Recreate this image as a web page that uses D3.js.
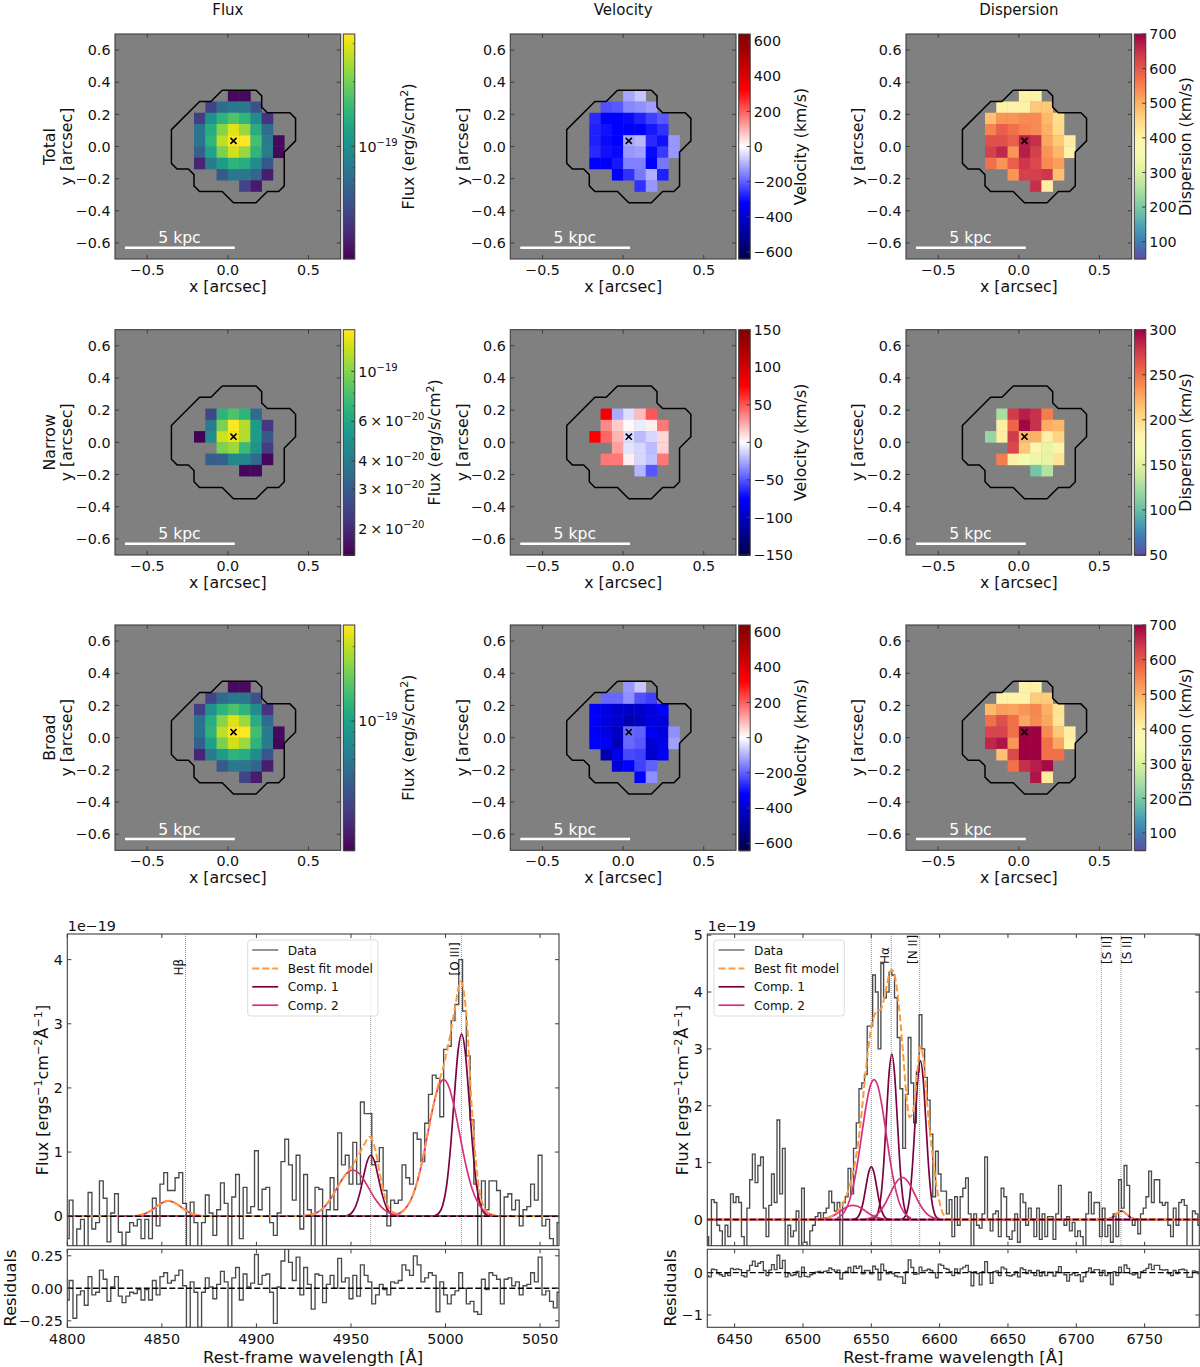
<!DOCTYPE html>
<html><head><meta charset="utf-8">
<script src="https://cdn.jsdelivr.net/npm/d3@7"></script>
<style>html,body{margin:0;background:#fff}svg{display:block}text{font-family:"DejaVu Sans";fill:#111}</style>
</head><body><svg id="c" width="1200" height="1367"></svg>
<script>
const _ = null;
const gridX = [-0.21,-0.14,-0.07,0,0.07,0.14,0.21,0.28];
const gridY = [0.35,0.28,0.21,0.14,0.07,0,-0.07,-0.14,-0.21];
const contourPts = [[-.035,.35],[.175,.35],[.21,.315],[.21,.245],[.245,.21],[.385,.21],[.42,.175],[.42,.035],[.35,-.035],[.35,-.245],[.315,-.28],[.245,-.28],[.175,-.35],[.035,-.35],[-.035,-.28],[-.175,-.28],[-.21,-.245],[-.21,-.175],[-.245,-.14],[-.315,-.14],[-.35,-.105],[-.35,.105],[-.175,.28],[-.105,.28],[-.035,.35]];
const centre = [0.035,0.035];

// flux in 1e-20 erg/s/cm2
const fluxTotal = [
[_,_,_,3.2,3.2,_,_,_],
[_,4.85,7,7.85,7.85,5.5,_,_],
[4.6,10,14.3,17,14.3,9.5,4.3,_],
[7.5,13.4,21.6,29.5,23,13.4,7,_],
[7.5,14.3,26.2,33,33,16.2,8.2,3.2],
[6.2,12,20.6,28,23,14.3,8.2,3.15],
[3.8,8.2,11.2,14.3,13.4,9.5,5.75,_],
[_,_,5.9,7.85,7.85,6.65,3.65,_],
[_,_,_,_,4.85,3.55,_,_]];
const velTotal = [
[_,_,_,-110,-70,_,_,_],
[_,-220,-210,-150,-140,-120,_,_],
[-270,-320,-320,-310,-280,-240,-210,_],
[-280,-300,-320,-320,-320,-290,-260,_],
[-280,-310,-320,-110,-90,-270,-300,-130],
[-270,-300,-310,-130,-120,-310,-250,-130],
[-320,-330,-290,-160,-160,-320,-170,_],
[_,_,-320,-260,-170,-100,-280,_],
[_,_,_,_,-260,-130,_,_]];
const dispTotal = [
[_,_,_,400,400,_,_,_],
[_,400,400,400,470,470,_,_],
[480,530,530,540,540,490,440,_],
[550,590,570,550,540,500,445,_],
[610,610,590,670,650,510,470,410],
[630,660,530,670,630,530,490,400],
[570,530,590,640,620,540,520,_],
[_,_,530,630,630,640,480,_],
[_,_,_,_,650,410,_,_]];
const fluxNarrow = [
[_,_,_,_,_,_,_,_],
[_,_,_,_,_,_,_,_],
[_,2.5,6.8,8,6.8,3.4,_,_],
[_,4,9.7,15.3,11.7,5.4,2.2,_],
[1.55,4.6,12.8,14.3,11.7,5.4,2.85,_],
[_,_,9.7,10.8,7.3,5,2.3,_],
[_,3.05,3.05,4.5,4.5,3.4,1.6,_],
[_,_,_,_,1.6,1.6,_,_],
[_,_,_,_,_,_,_,_]];
const velNarrow = [
[_,_,_,_,_,_,_,_],
[_,_,_,_,_,_,_,_],
[_,82,-25,-10,20,50,_,_],
[_,35,15,2,-6,5,40,_],
[75,45,22,-10,-20,-12,12,_],
[_,_,28,-8,-12,-20,13,_],
[_,40,40,5,-12,-18,40,_],
[_,_,_,_,-22,-50,_,_],
[_,_,_,_,_,_,_,_]];
const dispNarrow = [
[_,_,_,_,_,_,_,_],
[_,_,_,_,_,_,_,_],
[_,125,275,288,280,245,_,_],
[_,188,255,298,280,225,220,_],
[118,188,275,220,222,187,205,_],
[_,_,270,212,180,155,182,_],
[_,245,185,168,158,155,195,_],
[_,_,_,_,105,130,_,_],
[_,_,_,_,_,_,_,_]];
const fluxBroad = [
[_,_,_,3.2,3.2,_,_,_],
[_,4.6,6.2,6.9,6.9,5.1,_,_],
[4.4,8.6,11.7,13.5,11.7,8.2,4.1,_],
[6.6,11,16.7,22,17.9,11,6.2,_],
[6.6,11.7,19.9,24.5,24.4,13,7.2,3.2],
[5.6,10,16,21,17.9,11.7,7.2,3.1],
[3.7,7.2,9.5,11.7,11,8.2,5.3,_],
[_,_,5.4,6.9,6.9,6,3.55,_],
[_,_,_,_,4.6,3.5,_,_]];
const velBroad = [
[_,_,_,-130,-70,_,_,_],
[_,-190,-190,-140,-220,-240,_,_],
[-330,-370,-410,-420,-410,-380,-320,_],
[-330,-380,-400,-470,-430,-380,-390,_],
[-330,-370,-430,-190,-200,-340,-380,-140],
[-320,-330,-440,-190,-210,-400,-360,-120],
[_,-470,-350,-230,-240,-410,-340,_],
[_,_,-390,-320,-240,-200,_,_],
[_,_,_,_,-320,-140,_,_]];
const dispBroad = [
[_,_,_,400,400,_,_,_],
[_,395,395,395,465,465,_,_],
[490,520,515,530,545,500,430,_],
[570,610,570,510,540,510,425,_],
[625,625,570,700,700,540,470,405],
[660,680,530,700,700,570,510,400],
[_,480,620,700,700,570,570,_],
[_,_,570,650,670,690,_,_],
[_,_,_,_,680,415,_,_]];

const velTicksWide = [-600,-400,-200,0,200,400,600];
const velTicksNarrow = [-150,-100,-50,0,50,100,150];
const dispTicksWide = [100,200,300,400,500,600,700];
const dispTicksNarrow = [50,100,150,200,250,300];
const fluxTicksNarrow = [10,6,4,3,2];
const fluxTicksSingle = [10];
const fluxMinorTotal = [4,5,6,7,8,9,20,30];
const fluxMinorNarrow = [1.6,1.7,1.8,1.9,5,7,8,9];
const fluxMinorBroad = [4,5,6,7,8,9,20];
const mapTicksX = [-0.5,0,0.5];
const mapTicksY = [-0.6,-0.4,-0.2,0,0.2,0.4,0.6];
const colTitles = ["Flux","Velocity","Dispersion"];
const rowNames = ["Total","Narrow","Broad"];

// spectra on a common wavelength grid
const waveLeft = d3.range(4800,5061,2);
const dataLeft = [
-.35,.25,-.55,-.2,-.05,-.5,.37,-.2,-.1,.55,
.28,-.4,.05,.35,-.25,-.45,-.25,-.1,-.15,-.05,
-.35,-.05,-.35,.28,-.15,.5,.68,.4,.4,.6,
.68,.2,-.7,.22,-.1,-.6,-.1,.33,.05,-.3,
.1,.52,.2,-.6,.3,.65,-.35,.45,.05,.15,
1.02,.1,.42,.45,-.1,-.3,.05,.85,1.2,.8,
.25,.95,-.2,.65,.1,-.6,.45,.42,-.55,.1,
.6,.1,1.3,.8,.95,.5,1.15,.5,1.78,1.6,
1.6,.8,.85,1.07,.4,-.15,.25,.2,.25,.8,
.6,.5,1.3,1.2,.85,1.45,1.9,2.2,2.15,1.55,
2.6,2.65,3.05,3.3,4.0,3.2,2.5,1.5,.5,-.6,
.55,.1,.55,.55,.4,-.5,.3,.35,.1,.25,
-.15,.1,.15,.5,.25,.95,-.15,-.05,-.35,-.6,-.1];
const resLeft = [
-.09,.06,-.23,-.05,-.02,-.13,.09,-.05,-.03,.14,.07,-.1,.01,.09,-.06,-.11,-.06,-.03,-.04,-.01,
-.09,-.01,-.09,.06,-.05,.09,.12,.04,.06,.1,
.14,.02,-.3,.05,-.03,-.3,-.03,.08,.01,-.08,
.03,.13,.05,-.3,.08,.16,-.09,.11,.01,.04,
.26,.03,.1,.11,-.03,-.27,.01,.21,.3,.2,
.06,.24,-.05,.16,.03,-.16,.11,.1,-.11,.03,
.1,0,.23,.05,.08,-.08,.1,-.06,.18,.1,
.05,-.12,-.05,.03,-.01,-.05,.05,.04,.06,.18,
.14,.1,.25,.18,.05,.08,.12,.1,-.18,.05,
-.05,-.12,-.05,-.02,.12,0,-.12,-.1,-.18,-.2,
.07,-.01,.12,.1,.07,-.12,.07,.08,.02,.05,
-.05,.02,.03,.12,.05,.24,-.05,-.02,-.1,-.15,-.03];
const waveRight = d3.range(6430,6791,2);
const dataRight = [
-.3,-.6,.35,.3,-.1,-.2,-.5,-.1,-.3,.45,
.3,.4,.3,-.3,-.6,.2,.7,1.15,.65,.95,
1.1,.2,-.3,.25,.8,.3,1.75,.45,1.25,-.6,
-.1,-.3,-.2,.15,-.6,.55,-.4,-.6,-.2,-.1,
.05,.12,0,.12,.2,.5,.3,.15,.3,-.6,
.3,.4,.9,.45,1.25,1.7,2.3,2.4,2.55,3.4,
3.4,4.3,4.0,3.0,4.5,3.9,4.0,4.35,4.3,3.9,
3.2,2.3,1.25,2.2,3.2,2.4,1.7,2.6,3.6,3.0,
2.5,2.1,1.5,.4,1.2,.8,.5,.5,.1,.35,
-.3,.4,-.1,.4,.55,.73,.1,-.6,.1,-.1,
-.15,.1,1.1,0,-.2,.1,.15,-.3,.55,.4,
-.3,-.35,-.2,.1,-.4,.45,.3,-.1,.2,0,
-.3,.2,-.35,.1,-.3,.05,.05,-.35,.1,.6,
0,-.1,.05,-.2,-.05,-.3,-.2,-.3,-.6,.1,
.48,.1,.3,.3,-.3,.2,-.3,-.1,-.4,.1,
-.3,.7,.2,.95,.6,0,-.1,0,-.25,.1,
.2,.4,.85,.3,.7,.7,.3,.25,.3,-.1,
-.3,.2,-.1,.3,.35,.25,-.6,-.6,.15,.1,
-.1];
const resRight = [
-.07,-.1,.08,.07,-.02,-.05,-.09,-.02,-.07,.1,
.07,.09,.07,-.07,-.1,.05,.17,.27,.15,.22,
.26,.05,-.07,.06,.19,.07,.41,.1,.29,-.1,
-.02,-.07,-.05,.03,-.1,.13,-.09,-.1,-.05,-.02,
.01,.03,0,.03,.04,.11,.07,.03,.06,-.15,
0,.03,.12,0,.15,.1,.15,-.03,.05,.05,
-.03,.15,.08,-.17,.2,.05,-.03,.02,-.02,-.08,
-.1,-.1,-.25,.02,.3,.12,-.04,-.03,.13,.04,
.05,.08,.05,0,-.12,.2,.17,.1,.08,.02,
-.07,.09,-.02,.09,.13,.17,.02,-.31,.02,-.02,
-.29,.02,.26,0,-.25,.02,.04,-.07,.13,.09,
-.07,-.08,-.05,.02,-.1,.11,.07,-.02,.05,0,
-.07,.05,-.08,.02,-.07,.01,.01,-.08,.02,.14,
0,-.05,-.2,-.05,-.01,-.07,-.05,-.21,-.1,.02,
.11,.02,.07,.07,-.07,.05,-.07,-.02,-.28,.02,
-.07,.13,0,.18,.1,-.02,-.05,-.02,-.12,.02,
.05,.1,.2,.07,.17,.17,.07,.06,.07,-.02,
-.07,.05,-.02,.07,.08,.06,-.11,-.11,.04,.02,
-.02];

const narrowOffsets = [-14,-12,-10,-8,-6,-4,-2,0,2,4,6,8,10,12,14];
const broadOffsets = [-27,-24,-21,-18,-15,-12,-9,-6,-3,0,3,6,9,12,15,18,21,24,27];

const comp1LeftCentres = [4960.5,5008.5];
const comp1LeftProfiles = [
[0,.016,.056,.155,.34,.6,.85,.95,.85,.6,.34,.155,.056,.016,0],
[.01,.048,.168,.46,1.02,1.8,2.54,2.84,2.54,1.8,1.02,.46,.168,.048,.01]];
const comp2LeftCentres = [4853.5,4951,4999];
const comp2LeftProfiles = [
[0,0,0,.005,.017,.044,.092,.157,.215,.24,.215,.157,.092,.044,.017,.005,0,0,0],
[.004,.012,.032,.073,.146,.259,.406,.558,.675,.72,.675,.558,.406,.259,.146,.073,.032,.012,.004],
[.013,.036,.094,.215,.432,.767,1.2,1.65,2.0,2.13,2.0,1.65,1.2,.767,.432,.215,.094,.036,.013]];
const comp1RightCentres = [6550,6565,6586,6733];
const comp1RightProfiles = [
[0,.01,.04,.126,.3,.565,.82,.93,.82,.565,.3,.126,.04,.01,0],
[.01,.032,.128,.393,.946,1.77,2.57,2.91,2.57,1.77,.946,.393,.128,.032,.01],
[.01,.031,.123,.377,.907,1.69,2.46,2.79,2.46,1.69,.907,.377,.123,.031,.01],
[0,.002,.007,.02,.05,.09,.13,.15,.13,.09,.05,.02,.007,.002,0]];
const comp2RightCentres = [6536.6,6552,6572.7];
const comp2RightProfiles = [
[.002,.007,.016,.034,.062,.103,.152,.2,.237,.25,.237,.2,.152,.103,.062,.034,.016,.007,.002],
[.027,.071,.162,.332,.613,1.01,1.49,1.97,2.33,2.46,2.33,1.97,1.49,1.01,.613,.332,.162,.071,.027],
[.008,.021,.049,.1,.184,.304,.449,.592,.7,.74,.7,.592,.449,.304,.184,.1,.049,.021,.008]];

const modelLeftX = [4800,4835.5,4838.5,4841.5,4844.5,4847.5,4850.5,4853.5,4856.5,4859.5,4862.5,4865.5,4868.5,4871.5,4924,4930,4936,4942,4945,4948,4951,4954,4957,4960,4963,4966,4969,4972,4975,4978,4981,4984,4987,4990,4993,4996,4999,5002,5005,5008,5011,5014,5017,5020,5023,5026,5030,5060];
const modelLeftY = [0,.005,.017,.044,.092,.157,.215,.24,.215,.157,.092,.044,.017,.005,.004,.032,.146,.406,.558,.686,.8,.95,1.12,1.24,1.02,.55,.195,.065,.04,.094,.215,.432,.767,1.2,1.65,2.03,2.35,2.75,3.25,3.66,3.15,1.64,.58,.16,.043,.013,0,0];
const modelRightX = [6430,6515,6520,6525,6530,6533,6536,6539,6542,6545,6548,6551,6554,6557,6560,6563,6565,6567,6570,6573,6576,6578,6580,6582,6584,6586,6588,6590,6592,6594,6596,6598,6600,6602,6604,6606,6719,6721,6723,6725,6727,6729,6731,6733,6735,6737,6739,6741,6743,6745,6747,6790];
const modelRightY = [0,0,.05,.137,.31,.5,.76,1.13,1.66,2.39,3.05,3.5,3.66,3.7,3.95,4.3,4.39,4.3,3.8,3.0,2.1,1.8,1.85,2.15,2.7,3.04,2.85,2.3,1.75,1.3,.9,.55,.3,.13,.05,0,0,.002,.007,.02,.05,.09,.13,.15,.13,.09,.05,.02,.007,.002,0,0];

const linesLeft = [4862.5,4960.4,5008.4];
const linesRight = [6550,6564.6,6585.4,6718.3,6732.7];
const lineLabelsLeft = [["Hβ",4862.5,-2.5],["[O III]",5008.4,-2]];
const lineLabelsRight = [["Hα",6564.6,-2.5],["[N II]",6585.4,-2.5],["[S II]",6718.3,10],["[S II]",6732.7,10]];
const legendNames = ["Data","Best fit model","Comp. 1","Comp. 2"];

const svg = d3.select("#c");
const DARK = "#3c3c3c", C1 = "#7a0040", C2 = "#d6307a", ORANGE = "#ff9a3c", DATA = "#4a4a4a";
const sup = (s,base,t,fs) => {
  s.append("tspan").text(base);
  const p = s.append("tspan").attr("dy",-fs*0.42).attr("font-size",fs*0.7).text(t);
  return p;
};

const colLayout = [{l:115,r:340.7,cl:343.3,cr:354.8,yl:67,rl:50},{l:510.3,r:736,cl:738.7,cr:750.2,yl:462.5,rl:446},{l:906,r:1131.7,cl:1134.3,cr:1145.8,yl:858,rl:841}];
const rowLayout = [{t:34,b:259},{t:329.7,b:555},{t:625,b:850.3}];

const seismic = d3.scaleLinear().domain([-1,-.5,0,.5,1]).range(["#00004d","#0000ff","#ffffff","#ff0000","#800000"]);
const spectralR = t => d3.interpolateSpectral(1-t);

const panels = [
 [{g:fluxTotal,kind:"flux",dom:[3,33.3],ticks:fluxTicksSingle,minor:fluxMinorTotal,lx:409},
  {g:velTotal,kind:"vel",dom:[-640,640],ticks:velTicksWide,lx:801},
  {g:dispTotal,kind:"disp",dom:[50,700],ticks:dispTicksWide,lx:1186}],
 [{g:fluxNarrow,kind:"flux",dom:[1.53,15.3],ticks:fluxTicksNarrow,minor:fluxMinorNarrow,lx:435},
  {g:velNarrow,kind:"vel",dom:[-150,150],ticks:velTicksNarrow,lx:801},
  {g:dispNarrow,kind:"disp",dom:[50,300],ticks:dispTicksNarrow,lx:1186}],
 [{g:fluxBroad,kind:"flux",dom:[3,24.5],ticks:fluxTicksSingle,minor:fluxMinorBroad,lx:409},
  {g:velBroad,kind:"vel",dom:[-640,640],ticks:velTicksWide,lx:801},
  {g:dispBroad,kind:"disp",dom:[50,700],ticks:dispTicksWide,lx:1186}]];

const TICK = 14.3, LAB = 15.8;
colTitles.forEach((t,c)=>{
  const L = colLayout[c];
  svg.append("text").attr("x",(L.l+L.r)/2).attr("y",14.5).attr("text-anchor","middle").attr("font-size",15).text(t);
});

function colourOf(p){
  if(p.kind==="flux"){ const s=d3.scaleLog().domain(p.dom).range([0,1]).clamp(true); return v=>d3.interpolateViridis(s(v)); }
  if(p.kind==="vel"){ const s=d3.scaleLinear().domain(p.dom).range([-1,1]).clamp(true); return v=>seismic(s(v)); }
  const s=d3.scaleLinear().domain(p.dom).range([0,1]).clamp(true); return v=>spectralR(s(v));
}

panels.forEach((row,ri)=>row.forEach((p,ci)=>{
  const L=colLayout[ci], R=rowLayout[ri];
  const x=d3.scaleLinear().domain([-.7,.7]).range([L.l,L.r]);
  const y=d3.scaleLinear().domain([-.7,.7]).range([R.b,R.t]);
  const g=svg.append("g");
  g.append("rect").attr("x",L.l).attr("y",R.t).attr("width",L.r-L.l).attr("height",R.b-R.t).attr("fill","#808080");
  const col=colourOf(p);
  const cells=[];
  p.g.forEach((rw,r)=>rw.forEach((v,c)=>{ if(v!==null) cells.push({v,r,c}); }));
  const step=gridX[1]-gridX[0];
  g.selectAll("rect.cell").data(cells).join("rect").attr("class","cell")
    .attr("x",d=>x(gridX[d.c])).attr("y",d=>y(gridY[d.r]))
    .attr("width",d=>x(gridX[d.c]+step)-x(gridX[d.c])+.3).attr("height",d=>y(gridY[d.r]-step)-y(gridY[d.r])+.3)
    .attr("fill",d=>col(d.v));
  g.append("path").attr("d",d3.line().x(d=>x(d[0])).y(d=>y(d[1]))(contourPts)).attr("fill","none").attr("stroke","#000").attr("stroke-width",1.5);
  g.append("path").attr("d",d3.symbol(d3.symbolTimes,26)()).attr("transform",`translate(${x(centre[0])},${y(centre[1])})`).attr("stroke","#000").attr("stroke-width",1.6).attr("fill","none");
  g.append("line").attr("x1",x(-.638)).attr("x2",x(.043)).attr("y1",y(-.63)).attr("y2",y(-.63)).attr("stroke","#fff").attr("stroke-width",2.4);
  g.append("text").attr("x",x(-.3)).attr("y",y(-.603)).attr("text-anchor","middle").attr("font-size",15.6).style("fill","#fff").text("5 kpc");
  g.append("rect").attr("x",L.l).attr("y",R.t).attr("width",L.r-L.l).attr("height",R.b-R.t).attr("fill","none").attr("stroke",DARK).attr("stroke-width",1.1);
  mapTicksX.forEach(t=>{
    [[R.b,R.b-4],[R.t,R.t+4]].forEach(a=>g.append("line").attr("x1",x(t)).attr("x2",x(t)).attr("y1",a[0]).attr("y2",a[1]).attr("stroke",DARK));
    g.append("text").attr("x",x(t)).attr("y",R.b+15.8).attr("text-anchor","middle").attr("font-size",TICK).text(d3.format(".1f")(t));
  });
  mapTicksY.forEach(t=>{
    [[L.l,L.l+4],[L.r,L.r-4]].forEach(a=>g.append("line").attr("y1",y(t)).attr("y2",y(t)).attr("x1",a[0]).attr("x2",a[1]).attr("stroke",DARK));
    g.append("text").attr("x",L.l-4.5).attr("y",y(t)+5.2).attr("text-anchor","end").attr("font-size",TICK).text(d3.format(".1f")(t));
  });
  g.append("text").attr("x",(L.l+L.r)/2).attr("y",R.b+33).attr("text-anchor","middle").attr("font-size",LAB).text("x [arcsec]");
  const cy=(R.t+R.b)/2;
  g.append("text").attr("transform",`translate(${L.yl+5},${cy}) rotate(-90)`).attr("text-anchor","middle").attr("font-size",LAB).text("y [arcsec]");
  if(ci===0) g.append("text").attr("transform",`translate(${L.rl+5},${cy}) rotate(-90)`).attr("text-anchor","middle").attr("font-size",LAB).text(rowNames[ri]);
  const cs=(p.kind==="flux"?d3.scaleLog():d3.scaleLinear()).domain(p.dom).range([R.b,R.t]);
  const h=R.b-R.t;
  g.selectAll("rect.cb").data(d3.range(Math.ceil(h))).join("rect").attr("class","cb")
    .attr("x",L.cl).attr("width",L.cr-L.cl).attr("y",i=>R.t+i).attr("height",1.3)
    .attr("fill",i=>col(cs.invert(R.t+i+.5)));
  g.append("rect").attr("x",L.cl).attr("y",R.t).attr("width",L.cr-L.cl).attr("height",h).attr("fill","none").attr("stroke",DARK).attr("stroke-width",1);
  p.ticks.forEach(t=>{
    g.append("line").attr("x1",L.cr).attr("x2",L.cr-3.5).attr("y1",cs(t)).attr("y2",cs(t)).attr("stroke",DARK);
    const tx=g.append("text").attr("x",L.cr+3.5).attr("y",cs(t)+5.2).attr("font-size",TICK);
    if(p.kind==="flux"){
      if(t===10) sup(tx,"10","−19",TICK);
      else sup(tx,t+"\u2009×\u200910","−20",TICK);
    } else tx.text(d3.format("d")(t));
  });
  (p.minor||[]).forEach(t=>g.append("line").attr("x1",L.cr).attr("x2",L.cr-2).attr("y1",cs(t)).attr("y2",cs(t)).attr("stroke",DARK).attr("stroke-width",.8));
  const lab=g.append("text").attr("transform",`translate(${p.lx+5},${cy}) rotate(-90)`).attr("text-anchor","middle").attr("font-size",LAB);
  if(p.kind==="flux"){ lab.append("tspan").text("Flux (erg/s/cm"); lab.append("tspan").attr("dy",-6).attr("font-size",LAB*.7).text("2"); lab.append("tspan").attr("dy",6).text(")"); }
  else lab.text(p.kind==="vel"?"Velocity (km/s)":"Dispersion (km/s)");
}));

function spectrum(o){
  const T=934,B=1245.7,RT=1249.3,RB=1327.3;
  const x=d3.scaleLinear().domain(o.xdom).range([o.l,o.r]);
  const y=d3.scaleLinear().domain(o.ydom).range([B,T]);
  const ry=d3.scaleLinear().domain(o.rdom).range([RB,RT]);
  const g=svg.append("g");
  const id="clip"+o.id;
  const d=svg.append("defs");
  d.append("clipPath").attr("id",id+"a").append("rect").attr("x",o.l).attr("y",T).attr("width",o.r-o.l).attr("height",B-T);
  d.append("clipPath").attr("id",id+"b").append("rect").attr("x",o.l).attr("y",RT).attr("width",o.r-o.l).attr("height",RB-RT);
  const main=g.append("g").attr("clip-path",`url(#${id}a)`);
  const res=g.append("g").attr("clip-path",`url(#${id}b)`);
  o.lines.forEach(l=>main.append("line").attr("x1",x(l)).attr("x2",x(l)).attr("y1",T).attr("y2",B).attr("stroke","#777").attr("stroke-width",.8).attr("stroke-dasharray","1 1"));
  main.append("path").attr("d",d3.line().curve(d3.curveStep).x((v,i)=>x(o.wave[i])).y(v=>y(v))(o.data)).attr("fill","none").attr("stroke",DATA).attr("stroke-width",1.35);
  const smooth=d3.line().curve(d3.curveMonotoneX).x(d=>x(d[0])).y(d=>y(d[1]));
  const zero=o.xdom.map(v=>[v,0]);
  [[o.c1c,o.c1p,narrowOffsets,C1],[o.c2c,o.c2p,broadOffsets,C2]].forEach(([cs,ps,off,col])=>{
    main.append("path").attr("d",smooth(zero)).attr("fill","none").attr("stroke",col).attr("stroke-width",1.7);
    cs.forEach((c,k)=>main.append("path").attr("d",smooth(off.map((f,i)=>[c+f,ps[k][i]]))).attr("fill","none").attr("stroke",col).attr("stroke-width",1.7));
  });
  main.append("path").attr("d",smooth(o.mx.map((v,i)=>[v,o.my[i]]))).attr("fill","none").attr("stroke",ORANGE).attr("stroke-width",2).attr("stroke-dasharray","7 3");
  main.append("line").attr("x1",o.l).attr("x2",o.r).attr("y1",y(0)).attr("y2",y(0)).attr("stroke","#000").attr("stroke-width",1.5).attr("stroke-dasharray","6 2.5");
  res.append("path").attr("d",d3.line().curve(d3.curveStep).x((v,i)=>x(o.wave[i])).y(v=>ry(v))(o.res)).attr("fill","none").attr("stroke",DATA).attr("stroke-width",1.35);
  res.append("line").attr("x1",o.l).attr("x2",o.r).attr("y1",ry(0)).attr("y2",ry(0)).attr("stroke","#000").attr("stroke-width",1.4).attr("stroke-dasharray","6 2.5");
  o.labels.forEach(([t,w,off])=>g.append("text").attr("transform",`translate(${x(w)+off},${o.labY}) rotate(-90)`).attr("font-size",12).text(t));
  [[T,B],[RT,RB]].forEach(a=>g.append("rect").attr("x",o.l).attr("y",a[0]).attr("width",o.r-o.l).attr("height",a[1]-a[0]).attr("fill","none").attr("stroke",DARK).attr("stroke-width",1.1));
  o.xticks.forEach(t=>{
    [[T,T+4],[B,B-4],[RT,RT+4],[RB,RB-4]].forEach(a=>g.append("line").attr("x1",x(t)).attr("x2",x(t)).attr("y1",a[0]).attr("y2",a[1]).attr("stroke",DARK));
    g.append("text").attr("x",x(t)).attr("y",RB+16.3).attr("text-anchor","middle").attr("font-size",TICK).text(t);
  });
  o.yticks.forEach(t=>{
    [[o.l,o.l+4],[o.r,o.r-4]].forEach(a=>g.append("line").attr("y1",y(t)).attr("y2",y(t)).attr("x1",a[0]).attr("x2",a[1]).attr("stroke",DARK));
    g.append("text").attr("x",o.l-4.5).attr("y",y(t)+5.2).attr("text-anchor","end").attr("font-size",TICK).text(d3.format("d")(t));
  });
  o.rticks.forEach(t=>{
    [[o.l,o.l+4],[o.r,o.r-4]].forEach(a=>g.append("line").attr("y1",ry(t)).attr("y2",ry(t)).attr("x1",a[0]).attr("x2",a[1]).attr("stroke",DARK));
    g.append("text").attr("x",o.l-4.5).attr("y",ry(t)+5.2).attr("text-anchor","end").attr("font-size",TICK).text(d3.format(o.rfmt)(t));
  });
  g.append("text").attr("x",o.l+.5).attr("y",T-3).attr("font-size",TICK).text("1e−19");
  g.append("text").attr("x",(o.l+o.r)/2).attr("y",1362.5).attr("text-anchor","middle").attr("font-size",16.4).text("Rest-frame wavelength [Å]");
  g.append("text").attr("transform",`translate(${o.rlabX},1288) rotate(-90)`).attr("text-anchor","middle").attr("font-size",16.2).text("Residuals");
  const yl=g.append("text").attr("transform",`translate(${o.ylabX},1090) rotate(-90)`).attr("text-anchor","middle").attr("font-size",16);
  yl.append("tspan").text("Flux [ergs");
  [["−1","cm"],["−2","Å"],["−1","]"]].forEach(([s,t])=>{
    yl.append("tspan").attr("dy",-6).attr("font-size",11.2).text(s);
    yl.append("tspan").attr("dy",6).text(t);
  });
  const lg=g.append("g");
  lg.append("rect").attr("x",o.legL).attr("y",940).attr("width",o.legW).attr("height",76).attr("rx",3).attr("fill","#fff").attr("fill-opacity",.8).attr("stroke","#ddd");
  const sty=[[DATA,1.2,null],[ORANGE,2,"7 3"],[C1,1.7,null],[C2,1.7,null]];
  legendNames.forEach((n,i)=>{
    const yy=950+18.4*i;
    lg.append("line").attr("x1",o.legL+4.5).attr("x2",o.legL+30.5).attr("y1",yy).attr("y2",yy).attr("stroke",sty[i][0]).attr("stroke-width",sty[i][1]).attr("stroke-dasharray",sty[i][2]);
    lg.append("text").attr("x",o.legL+40).attr("y",yy+4.5).attr("font-size",12.2).text(n);
  });
}

spectrum({id:"L",l:67.3,r:559,xdom:[4800,5060],ydom:[-.46,4.4],rdom:[-.3,.3],wave:waveLeft,data:dataLeft,res:resLeft,
  c1c:comp1LeftCentres,c1p:comp1LeftProfiles,c2c:comp2LeftCentres,c2p:comp2LeftProfiles,mx:modelLeftX,my:modelLeftY,
  lines:linesLeft,labels:lineLabelsLeft,labY:975.5,xticks:[4800,4850,4900,4950,5000,5050],yticks:[0,1,2,3,4],rticks:[-.25,0,.25],rfmt:".2f",
  rlabX:15.5,ylabX:47.5,legL:247.7,legW:130.3});
spectrum({id:"R",l:707.3,r:1199.3,xdom:[6430,6790],ydom:[-.46,5.02],rdom:[-1.29,.55],wave:waveRight,data:dataRight,res:resRight,
  c1c:comp1RightCentres,c1p:comp1RightProfiles,c2c:comp2RightCentres,c2p:comp2RightProfiles,mx:modelRightX,my:modelRightY,
  lines:linesRight,labels:lineLabelsRight,labY:964,xticks:[6450,6500,6550,6600,6650,6700,6750],yticks:[0,1,2,3,4,5],rticks:[-1,0],rfmt:"d",
  rlabX:676,ylabX:687.5,legL:714,legW:130.3});
</script></body></html>
